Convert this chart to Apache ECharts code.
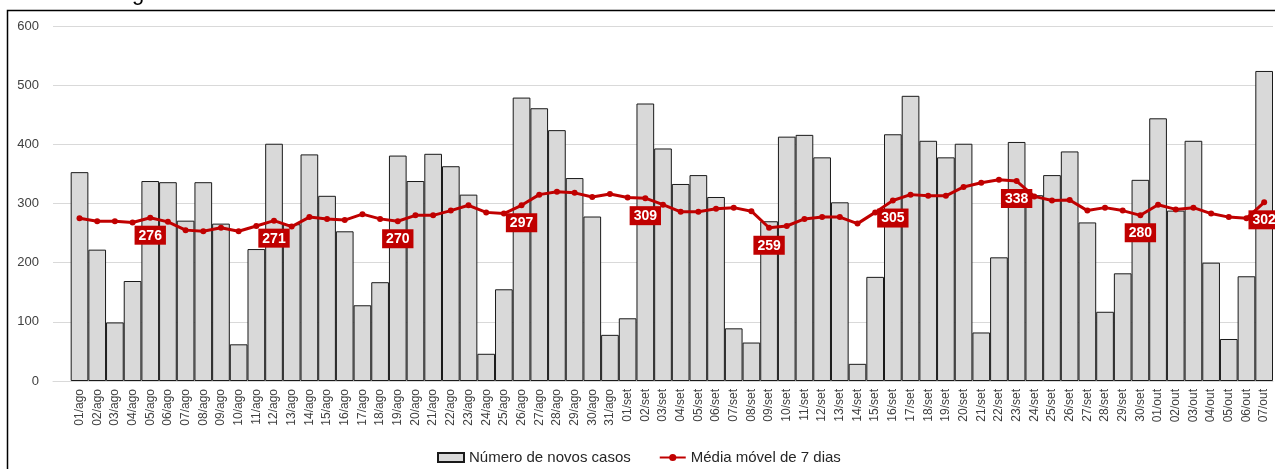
<!DOCTYPE html>
<html>
<head>
<meta charset="utf-8">
<script src="https://cdn.jsdelivr.net/npm/echarts@6/dist/echarts.min.js"></script>
<style>
  html, body { margin: 0; padding: 0; background: #fff; }
  #chart { width: 1275px; height: 469px; }
</style>
</head>
<body>
<div id="chart"></div>
<script>
// dias (01/ago a 07/out)
const dias = [
  '01/ago', '02/ago', '03/ago', '04/ago', '05/ago', '06/ago', '07/ago', '08/ago', '09/ago', '10/ago',
  '11/ago', '12/ago', '13/ago', '14/ago', '15/ago', '16/ago', '17/ago', '18/ago', '19/ago', '20/ago',
  '21/ago', '22/ago', '23/ago', '24/ago', '25/ago', '26/ago', '27/ago', '28/ago', '29/ago', '30/ago',
  '31/ago', '01/set', '02/set', '03/set', '04/set', '05/set', '06/set', '07/set', '08/set', '09/set',
  '10/set', '11/set', '12/set', '13/set', '14/set', '15/set', '16/set', '17/set', '18/set', '19/set',
  '20/set', '21/set', '22/set', '23/set', '24/set', '25/set', '26/set', '27/set', '28/set', '29/set',
  '30/set', '01/out', '02/out', '03/out', '04/out', '05/out', '06/out', '07/out'
]

const novosCasos = [
  353, 222, 99, 169, 338, 336, 271, 336, 266, 62,
  223, 401, 265, 383, 313, 253, 128, 167, 381, 338,
  384, 363, 315, 46, 155, 479, 461, 424, 343, 278,
  78, 106, 469, 393, 333, 348, 311, 89, 65, 270,
  413, 416, 378, 302, 29, 176, 417, 482, 406, 378,
  401, 82, 209, 404, 314, 348, 388, 268, 117, 182,
  340, 444, 288, 406, 200, 71, 177, 524
]

const mediaMovel = [
  275, 270, 270, 268, 276, 269, 255, 253, 259, 253,
  262, 271, 261, 277, 274, 272, 282, 274, 270, 280,
  280, 288, 297, 285, 283, 297, 315, 320, 318, 311,
  316, 310, 309, 298, 286, 286, 291, 293, 287, 259,
  262, 274, 277, 277, 266, 285, 305, 315, 313, 313,
  328, 335, 340, 338, 312, 305, 306, 288, 293, 288,
  280, 298, 290, 293, 283, 277, 275, 302
]

const yTicks = [0, 100, 200, 300, 400, 500, 600]

const chart = echarts.init(document.getElementById('chart'))

// categoria vazia no início (espaço antes da primeira barra, como no original)
const eixoX = [''].concat(dias)
const barras = [null].concat(novosCasos)
const linha = [null].concat(mediaMovel.map(function (v, i) {
  if ((i - 4) % 7 === 0) {
    return { value: v, label: { show: true } }
  }
  return v
}))

const fonte = '"Liberation Sans", "DejaVu Sans", sans-serif'

chart.setOption({
  animation: false,
  textStyle: { fontFamily: fonte },
  graphic: [
    {
      type: 'rect',
      shape: { x: 7.5, y: 10.5, width: 1300, height: 500 },
      style: { fill: 'none', stroke: '#000', lineWidth: 1.5 },
      silent: true
    },
    {
      type: 'text',
      left: 132,
      top: -17,
      style: { text: 'g', font: '22px ' + fonte, fill: '#000' },
      silent: true
    }
  ],
  grid: { left: 53, right: 2, top: 26, bottom: 88, containLabel: false },
  legend: {
    left: 432,
    top: 445,
    itemGap: 28,
    itemWidth: 26,
    itemHeight: 9,
    textStyle: { color: '#262626', fontSize: 15, fontFamily: fonte },
    data: [
      { name: 'Número de novos casos', icon: 'rect' },
      { name: 'Média móvel de 7 dias' }
    ]
  },
  xAxis: {
    type: 'category',
    data: eixoX,
    boundaryGap: true,
    axisLine: { show: true, lineStyle: { color: '#d9d9d9', width: 1 } },
    axisTick: { show: false },
    axisLabel: {
      interval: 0,
      rotate: 90,
      margin: 8,
      color: '#404040',
      fontSize: 12,
      fontFamily: fonte
    }
  },
  yAxis: {
    type: 'value',
    min: yTicks[0],
    max: yTicks[yTicks.length - 1],
    interval: 100,
    axisLine: { show: false },
    axisTick: { show: false },
    splitLine: { lineStyle: { color: '#d9d9d9', width: 1 } },
    axisLabel: { color: '#404040', fontSize: 13, margin: 14, fontFamily: fonte }
  },
  series: [
    {
      name: 'Número de novos casos',
      type: 'bar',
      data: barras,
      barCategoryGap: '0%',
      itemStyle: { color: '#d9d9d9', borderColor: '#1a1a1a', borderWidth: 1 }
    },
    {
      name: 'Média móvel de 7 dias',
      type: 'line',
      data: linha,
      symbol: 'circle',
      symbolSize: 6,
      lineStyle: { color: '#c00000', width: 3 },
      itemStyle: { color: '#c00000' },
      label: {
        show: false,
        position: 'bottom',
        distance: 5,
        color: '#fff',
        fontWeight: 'bold',
        fontSize: 14,
        fontFamily: fonte,
        backgroundColor: '#c00000',
        padding: [3, 4, 2, 4]
      },
      z: 5
    }
  ]
})
</script>
</body>
</html>
